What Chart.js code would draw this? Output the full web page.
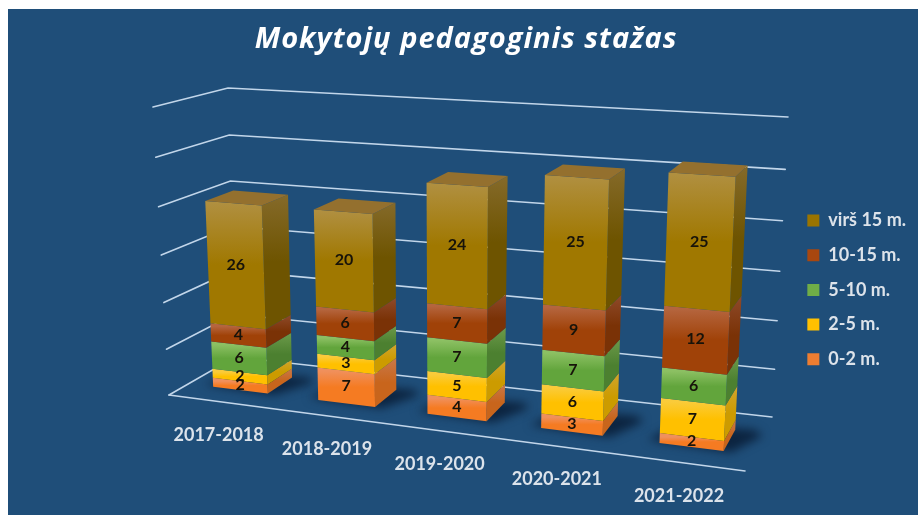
<!DOCTYPE html>
<html><head><meta charset="utf-8">
<style>html,body{margin:0;padding:0;background:#fff}canvas{display:block}#w{width:918px;height:515px;position:relative}</style>
<script src="https://cdn.jsdelivr.net/npm/chart.js@4/dist/chart.umd.min.js"></script>
</head><body><div id="w"><canvas id="c" width="918" height="515"></canvas></div>
<script>
const categories = ["2017-2018","2018-2019","2019-2020","2020-2021","2021-2022"];
const seriesNames = ["0-2 m.","2-5 m.","5-10 m.","10-15 m.","virš 15 m."];
const s0_2 = [2,7,4,3,2];
const s2_5 = [2,3,5,6,7];
const s5_10 = [6,4,7,7,6];
const s10_15 = [4,6,7,9,12];
const s15 = [26,20,24,25,25];
const legendColors = ["#ED7D31","#FFC000","#70AD47","#A8470F","#9A7400"];
const faceTop = ["#F0905C","#FACB3A","#8CC063","#B5653E","#B08F3F"];
const faceBottom = ["#F57B22","#FFC000","#62A53C","#A04208","#A07800"];
const sideTop = ["#C9784A","#D1A52E","#6C9A4A","#8E4A2A","#856A2A"];
const sideBottom = ["#C8651C","#CC9B00","#4C8030","#7A3206","#6E5400"];

// cube corners of the 3D plot box in the picture
const C = {
  fFL:[169,395], fFR:[745,471], fBL:[235,357], fBR:[772,417],
  tFL:[153,107], tFR:[760,141], tBL:[228,88],  tBR:[788,117]
};
const persp = (t,c)=> t/(t+c*(1-t));
const mix = (a,b,k)=>[a[0]+(b[0]-a[0])*k, a[1]+(b[1]-a[1])*k];
function project(t,w,v){
  const u = persp(t,1.105), h = persp(v,1.058);
  const fl = mix(mix(C.fFL,C.fFR,u), mix(C.fBL,C.fBR,u), w);
  const tp = mix(mix(C.tFL,C.tFR,u), mix(C.tBL,C.tBR,u), w);
  return mix(fl,tp,h);
}
const W0 = 0.30, W1 = 0.70;
function poly(ctx,pts){ctx.beginPath();pts.forEach((p,i)=>i?ctx.lineTo(p[0],p[1]):ctx.moveTo(p[0],p[1]));ctx.closePath();}
function grad(ctx,a,b,c0,c1){const g=ctx.createLinearGradient(0,a,0,b);g.addColorStop(0,c0);g.addColorStop(.5,c1);g.addColorStop(1,c1);return g;}

const scene3d = {
  id:'scene3d',
  afterLayout(chart){
    const tb=chart.titleBlock;
    if(tb && !tb._spaced){
      const orig=tb.draw;
      tb.draw=function(){chart.ctx.letterSpacing='1px';orig.call(this);chart.ctx.letterSpacing='0px';};
      tb._spaced=true;
    }
  },
  beforeDraw(chart){
    const ctx=chart.ctx;
    ctx.save();
    ctx.fillStyle='#1F4E79';
    ctx.fillRect(8,9,910,506);
    ctx.restore();
  },
  beforeDatasetsDraw(chart){
    const ctx=chart.ctx, yS=chart.scales.y, a=chart.chartArea;
    const T=px=>(px-a.left)/a.width, V=py=>(a.bottom-py)/a.height;
    ctx.save();
    // grid
    ctx.strokeStyle='#C2D6EA'; ctx.lineWidth=1.6; ctx.lineCap='round';
    yS.ticks.forEach(tk=>{
      const v=V(yS.getPixelForValue(tk.value));
      ctx.beginPath();
      const p0=project(0,0,v),p1=project(0,1,v),p2=project(1,1,v);
      ctx.moveTo(p0[0],p0[1]);ctx.lineTo(p1[0],p1[1]);ctx.lineTo(p2[0],p2[1]);ctx.stroke();
      if(tk.value===0){const q=project(1,0,0);ctx.beginPath();ctx.moveTo(p0[0],p0[1]);ctx.lineTo(q[0],q[1]);ctx.stroke();}
    });
    const metas=chart.getSortedVisibleDatasetMetas();
    const n=categories.length;
    // floor shadows
    ctx.save();
    ctx.filter='blur(5px)'; ctx.fillStyle='#0C2440';
    for(let i=0;i<n;i++){
      const el=metas[0].data[i].getProps(['x','width','base'],true);
      const t0=T(el.x-el.width/2),t1=T(el.x+el.width/2);
      const dt=t1-t0;
      poly(ctx,[project(t0-dt*.2,W0+.03,0),project(t1+.012,W0-.01,0),project(t1+dt*.45,W1-.05,0),project(t1+dt*.3,W1+.04,0),project(t0+dt*.1,W1,0)]);
      ctx.fill();
    }
    ctx.restore();
    // bars
    for(let i=0;i<n;i++){
      let topInfo=null;
      metas.forEach((m,k)=>{
        const el=m.data[i].getProps(['x','y','base','width'],true);
        const t0=T(el.x-el.width/2),t1=T(el.x+el.width/2);
        const v0=V(el.base),v1=V(el.y);
        const a0=project(t0,W0,v0),a1=project(t1,W0,v0),b1=project(t1,W0,v1),b0=project(t0,W0,v1);
        const s0=project(t1,W1,v0),s1=project(t1,W1,v1);
        ctx.fillStyle=grad(ctx,Math.min(b1[1],s1[1]),Math.max(a1[1],s0[1]),sideTop[k],sideBottom[k]);
        poly(ctx,[a1,s0,s1,b1]);ctx.fill();
        ctx.fillStyle=grad(ctx,(b0[1]+b1[1])/2,(a0[1]+a1[1])/2,faceTop[k],faceBottom[k]);
        poly(ctx,[a0,a1,b1,b0]);ctx.fill();
        topInfo={t0,t1,v1};
      });
      const {t0,t1,v1}=topInfo;
      ctx.fillStyle='#94702E';
      poly(ctx,[project(t0,W0,v1),project(t1,W0,v1),project(t1,W1,v1),project(t0,W1,v1)]);ctx.fill();
    }
    ctx.restore();
    return false;
  },
  afterDraw(chart){
    const ctx=chart.ctx, xS=chart.scales.x, a=chart.chartArea;
    const T=px=>(px-a.left)/a.width, V=py=>(a.bottom-py)/a.height;
    ctx.save();
    ctx.textAlign='center';ctx.textBaseline='middle';
    ctx.font='bold 16px Lato';ctx.fillStyle='#17130A';
    chart.getSortedVisibleDatasetMetas().forEach(m=>{
      m.data.forEach((d,i)=>{
        const el=d.getProps(['x','y','base'],true);
        const p=project(T(el.x),W0,(V(el.y)+V(el.base))/2);
        ctx.fillText(chart.data.datasets[m.index].data[i],p[0],p[1]-1);
      });
    });
    ctx.font='bold 18px Lato';ctx.fillStyle='#DCE3EB';
    xS.getLabels().forEach((lab,i)=>{
      const p=project(T(xS.getPixelForValue(i)),0,0);
      ctx.fillText(lab,p[0]-3,p[1]+33);
    });
    ctx.restore();
  }
};

const data={labels:categories,datasets:[s0_2,s2_5,s5_10,s10_15,s15].map((d,i)=>({
  label:seriesNames[i],data:d,backgroundColor:legendColors[i],borderWidth:0,stack:'a',barPercentage:.525,categoryPercentage:1
}))};
new Chart(document.getElementById('c'),{
  type:'bar',data,plugins:[scene3d],
  options:{
    responsive:false,animation:false,
    layout:{padding:{left:16,right:2,top:22,bottom:5}},
    scales:{
      x:{stacked:true,display:false},
      y:{stacked:true,display:false,min:0,max:60,ticks:{stepSize:10}}
    },
    plugins:{
      tooltip:{enabled:false},
      title:{display:true,text:"Mokytojų pedagoginis stažas",color:'#FFFFFF',font:{family:'Open Sans',size:29,weight:'bold',style:'italic'},padding:{top:0,bottom:13}},
      legend:{display:true,position:'right',fullSize:false,reverse:true,align:'center',labels:{boxWidth:12,boxHeight:12,padding:16.7,color:'#DDE3EA',font:{family:'Lato',size:18,weight:'bold'}}}
    }
  }
});
</script></body></html>
